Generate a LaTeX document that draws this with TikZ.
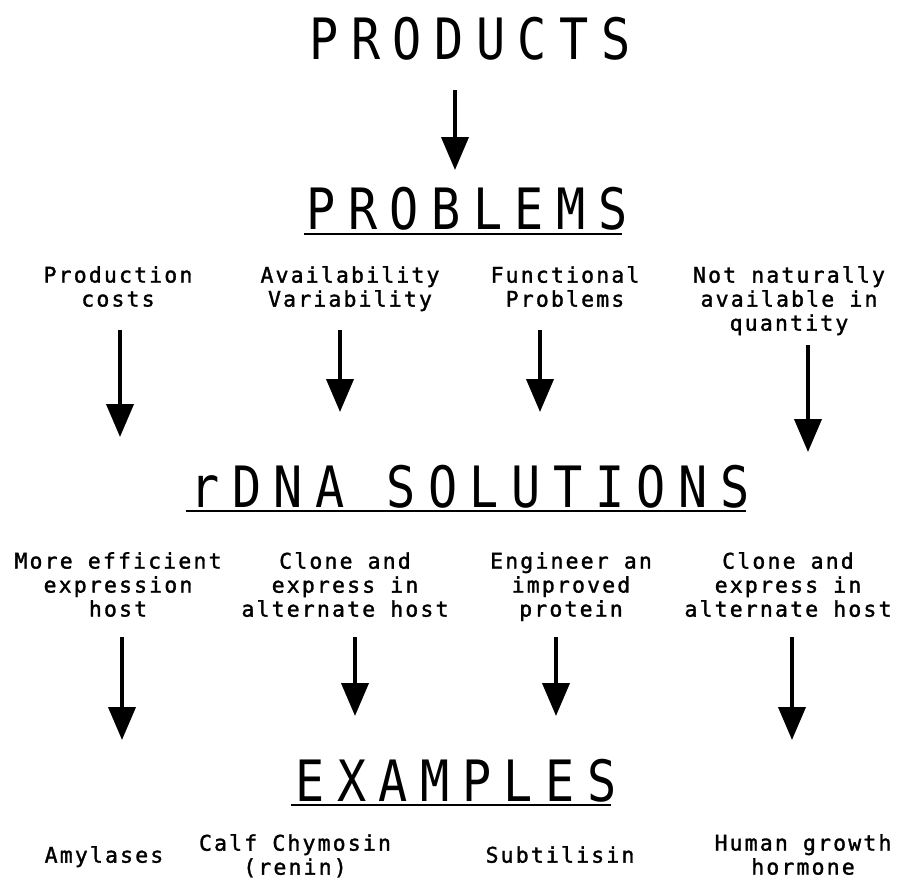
\documentclass[tikz,border=0pt]{standalone}
\usepackage{fontspec}
\usetikzlibrary{arrows.meta}
\newfontfamily\labelfont{DejaVu Sans Mono}[LetterSpace=10,FakeBold=1.5]
\newfontfamily\titlefont{DejaVu Sans Mono}[FakeStretch=0.85,LetterSpace=22]
\tikzset{
  heading/.style={font=\titlefont\fontsize{57}{62}\selectfont, inner sep=0, anchor=base},
  label/.style={font=\labelfont\fontsize{21.5}{24}\selectfont, align=center, inner sep=0, anchor=north},
  arr/.style={line width=4pt, -{Triangle[width=27pt,length=33pt]}},
  uline/.style={line width=1.6pt}
}
\begin{document}
\begin{tikzpicture}[x=1pt,y=-1pt]
  \useasboundingbox (0,0) rectangle (898,881);
  % headings
  \node[heading] (prod) at (470,59) {PRODUCTS};
  \node[heading] (prob) at (467,229) {PROBLEMS};
  \node[heading] (sol) at (470,507) {rDNA SOLUTIONS};
  \node[heading] (ex) at (456,801) {EXAMPLES};
  \draw[uline] ([xshift=-2pt,yshift=-5pt]prob.base west) -- ([xshift=-6pt,yshift=-5pt]prob.base east);
  \draw[uline] ([xshift=-4pt,yshift=-4pt]sol.base west) -- ([xshift=-4pt,yshift=-4pt]sol.base east);
  \draw[uline] ([xshift=-4pt,yshift=-4pt]ex.base west) -- ([xshift=-6pt,yshift=-4pt]ex.base east);
  % problems
  \node[label] (cost) at (118,266) {Production\\costs};
  \node[label] (avail) at (350,266) {Availability\\Variability};
  \node[label] (func) at (565,266) {Functional\\Problems};
  \node[label] (natur) at (789,266) {Not naturally\\available in\\quantity};
  % solutions
  \node[label] (host) at (118,552) {More efficient\\expression\\host};
  \node[label] (clone) at (345,552) {Clone and\\express in\\alternate host};
  \node[label] (eng) at (571,552) {Engineer an\\improved\\protein};
  \node[label] (clonb) at (788,552) {Clone and\\express in\\alternate host};
  % examples
  \node[label] (amyl) at (104,846) {Amylases};
  \node[label] (chym) at (295,834) {Calf Chymosin\\(renin)};
  \node[label] (subt) at (560,846) {Subtilisin};
  \node[label] (hgh) at (803,834) {Human growth\\hormone};
  % arrow ends
  \coordinate (p0) at (455,90);   \coordinate (q0) at (455,170);
  \coordinate (p1) at (120,330);  \coordinate (q1) at (120,437);
  \coordinate (p2) at (340,330);  \coordinate (q2) at (340,412);
  \coordinate (p3) at (540,330);  \coordinate (q3) at (540,412);
  \coordinate (p4) at (808,345);  \coordinate (q4) at (808,452);
  \coordinate (r1) at (122,637);  \coordinate (s1) at (122,740);
  \coordinate (r2) at (355,637);  \coordinate (s2) at (355,716);
  \coordinate (r3) at (556,637);  \coordinate (s3) at (556,716);
  \coordinate (r4) at (792,637);  \coordinate (s4) at (792,740);
  \draw[arr] (p0)--(q0);
  \draw[arr] (p1)--(q1);
  \draw[arr] (p2)--(q2);
  \draw[arr] (p3)--(q3);
  \draw[arr] (p4)--(q4);
  \draw[arr] (r1)--(s1);
  \draw[arr] (r2)--(s2);
  \draw[arr] (r3)--(s3);
  \draw[arr] (r4)--(s4);
\end{tikzpicture}
\end{document}
